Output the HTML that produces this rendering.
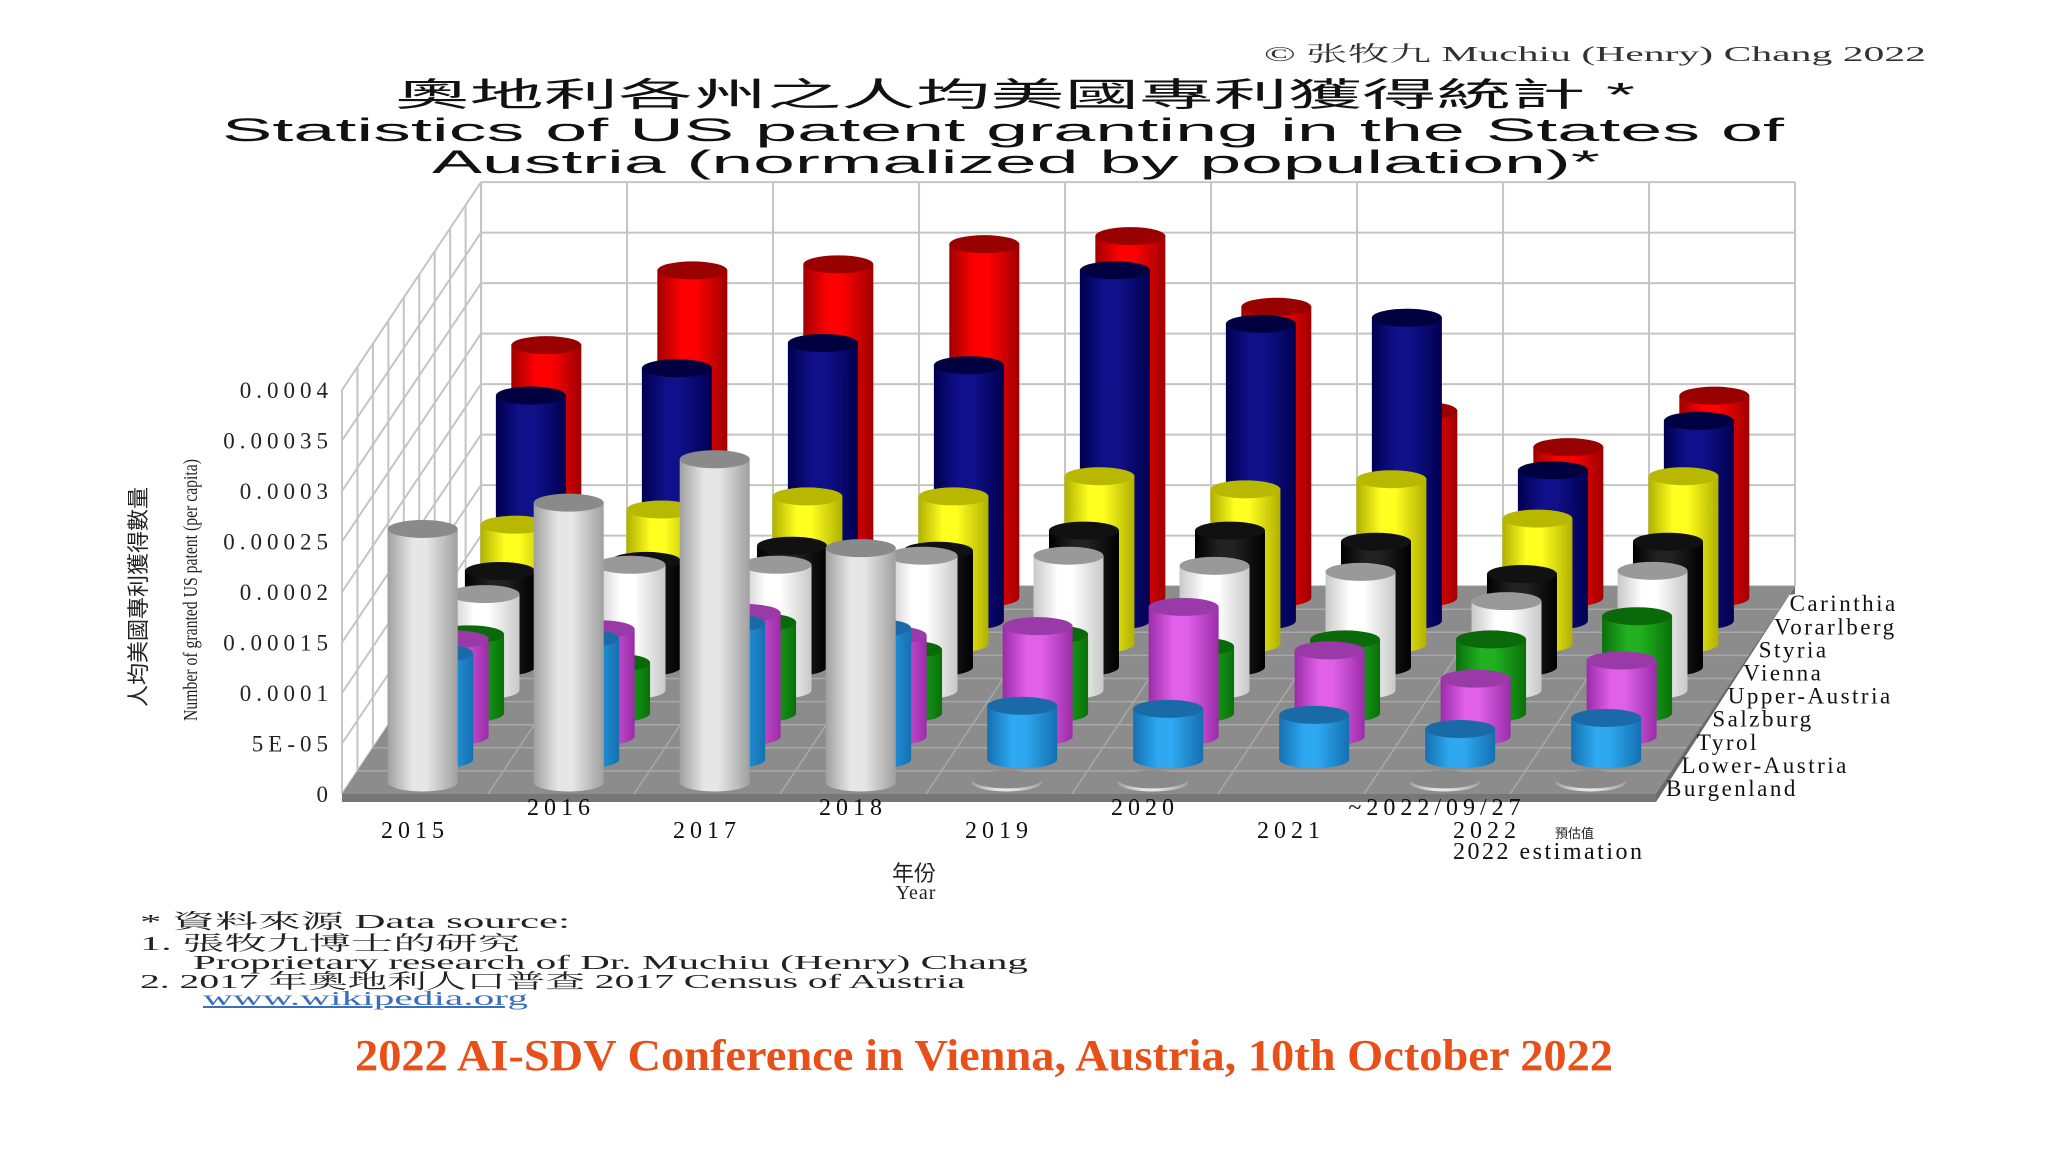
<!DOCTYPE html>
<html><head><meta charset="utf-8"><style>
html,body{margin:0;padding:0;background:#fff;}
svg{display:block;}
.serif{font-family:"Liberation Serif","Noto Serif CJK SC",serif;}
.sans{font-family:"Liberation Sans","Noto Sans CJK TC",sans-serif;}
</style></head><body>
<svg id="chart" width="2048" height="1152" viewBox="0 0 2048 1152" xmlns="http://www.w3.org/2000/svg">
<defs></defs>
<text x="1264" y="61" class="serif" font-size="21" fill="#333" textLength="662" lengthAdjust="spacingAndGlyphs">© 张牧九 Muchiu (Henry) Chang 2022</text>
<text x="395" y="106" class="sans" font-size="33" fill="#111" textLength="1240" lengthAdjust="spacingAndGlyphs">奧地利各州之人均美國專利獲得統計 *</text>
<text x="222" y="141" class="sans" font-size="32" fill="#111" textLength="1562" lengthAdjust="spacingAndGlyphs">Statistics of US patent granting in the States of</text>
<text x="432" y="173" class="sans" font-size="32" fill="#111" textLength="1168" lengthAdjust="spacingAndGlyphs">Austria (normalized by population)*</text>
<g id="plot"></g>
<text transform="translate(146,597) rotate(-90)" class="sans" font-size="22" text-anchor="middle" fill="#222">人均美國專利獲得數量</text>
<text transform="translate(197,590) rotate(-90)" class="serif" font-size="20" text-anchor="middle" fill="#222" textLength="262" lengthAdjust="spacingAndGlyphs">Number of granted US patent (per capita)</text>
<text x="914" y="881" class="sans" font-size="22" text-anchor="middle" fill="#222">年份</text>
<text x="916" y="899" class="serif" font-size="20" text-anchor="middle" fill="#222" letter-spacing="1">Year</text>
<g class="serif" font-size="20" fill="#222">
<text x="140" y="928" textLength="430" lengthAdjust="spacingAndGlyphs">* 資料來源  Data source:</text>
<text x="140" y="950" textLength="380" lengthAdjust="spacingAndGlyphs">1.  張牧九博士的研究</text>
<text x="193" y="969" textLength="835" lengthAdjust="spacingAndGlyphs">Proprietary research of Dr. Muchiu (Henry) Chang</text>
<text x="140" y="988" textLength="825" lengthAdjust="spacingAndGlyphs">2.  2017 年奧地利人口普查  2017 Census of Austria</text>
<text x="203" y="1005" fill="#3a6fc0" text-decoration="underline" textLength="325" lengthAdjust="spacingAndGlyphs">www.wikipedia.org</text>
</g>
<text x="984" y="1070" class="serif" font-size="44" font-weight="bold" fill="#e8501a" text-anchor="middle" textLength="1258" lengthAdjust="spacingAndGlyphs">2022 AI-SDV Conference in Vienna, Austria, 10th October 2022</text>
</svg>
<script>
const years = ["2015","2016","2017","2018","2019","2020","2021","~2022/09/27","2022"];
const states = ["Burgenland","Lower-Austria","Tyrol","Salzburg","Upper-Austria","Vienna","Styria","Vorarlberg","Carinthia"];
const yTicks = ["0","5E-05","0.0001","0.00015","0.0002","0.00025","0.0003","0.00035","0.0004"];
const burgenland = [0.000251,0.000277,0.00032,0.000232,0.000003,0.000003,0,0.000003,0.000003];
const lowerAustria = [0.000105,0.00012,0.000135,0.00013,0.000053,0.00005,0.000044,0.00003,0.000041];
const tyrol = [0.000096,0.000106,0.000122,0.0001,0.000109,0.000128,0.000085,0.000057,0.000075];
const salzburg = [0.000078,0.00005,0.00009,0.000063,0.000078,0.000066,0.000073,0.000073,0.000096];
const upperAustria = [0.000095,0.000124,0.000124,0.000133,0.000133,0.000123,0.000117,0.000088,0.000118];
const vienna = [0.000095,0.000105,0.00012,0.000115,0.000135,0.000135,0.000124,0.000092,0.000124];
const styria = [0.000118,0.000133,0.000146,0.000146,0.000166,0.000153,0.000163,0.000124,0.000166];
const vorarlberg = [0.000223,0.00025,0.000275,0.000253,0.000347,0.000294,0.0003,0.000149,0.000198];
const carinthia = [0.00025,0.000324,0.00033,0.00035,0.000358,0.000288,0.000185,0.000149,0.0002];
const seriesValues = [burgenland,lowerAustria,tyrol,salzburg,upperAustria,vienna,styria,vorarlberg,carinthia];
const colors = [["#e6e6e6","#a0a0a0","#8a8a8a"],["#2ea8f0","#1470b0","#1a6aa8"],["#e060e8","#9a2ca8","#9a3aa8"],["#20b020","#0a700a","#0a6a0a"],["#ffffff","#c8c8c8","#999"],["#222","#000","#111"],["#ffff20","#b0b000","#b8b800"],["#10108a","#000050","#000040"],["#f00","#a00000","#900"]];

const NS="http://www.w3.org/2000/svg";
const plot=document.getElementById('plot');
const defs=document.querySelector('defs');
const X0=342, Y0=794, COLW=146, DX=15.45, DY=23.1, YMAX=0.0004, HMAX=404;
const NC=years.length, NR=states.length;
function yScale(v){return v/YMAX*HMAX;}
function px(col,row){return X0+col*COLW+row*DX;}
function py(row,v){return Y0-row*DY-yScale(v);}
function mk(tag,attrs,parent){const e=document.createElementNS(NS,tag);for(const k in attrs)e.setAttribute(k,attrs[k]);(parent||plot).appendChild(e);return e;}

colors.forEach((c,i)=>{
  const g=mk('linearGradient',{id:'g'+i,x1:0,x2:1,y1:0,y2:0},defs);
  mk('stop',{offset:'0','stop-color':c[1]},g);
  mk('stop',{offset:'0.35','stop-color':c[0]},g);
  mk('stop',{offset:'0.55','stop-color':c[0]},g);
  mk('stop',{offset:'1','stop-color':c[1]},g);
});

const bx=px(0,NR);
const bw=mk('g',{});


for(let k=0;k<yTicks.length;k++){
  const y=py(NR,YMAX*k/(yTicks.length-1));
  mk('line',{x1:bx,y1:y,x2:px(NC,NR),y2:y,stroke:'#c4c4c4','stroke-width':2},bw);
  mk('line',{x1:px(0,0),y1:py(0,YMAX*k/(yTicks.length-1)),x2:bx,y2:y,stroke:'#c4c4c4','stroke-width':2},bw);
}
for(let c=0;c<=NC;c++){
  mk('line',{x1:px(c,NR),y1:py(NR,0),x2:px(c,NR),y2:py(NR,YMAX),stroke:'#c4c4c4','stroke-width':2},bw);
}
for(let r=0;r<=NR;r++){
  mk('line',{x1:px(0,r),y1:py(r,0),x2:px(0,r),y2:py(r,YMAX),stroke:'#c4c4c4','stroke-width':2},bw);
}
const fl=mk('g',{});


mk('polygon',{points:`${px(0,0)},${py(0,0)+8} ${px(NC,0)},${py(0,0)+8} ${px(NC,NR)},${py(NR,0)} ${px(NC,NR)},${py(NR,0)+8}`,fill:'#6a6a6a'},fl);
mk('polygon',{points:`${px(0,0)},${py(0,0)} ${px(NC,0)},${py(0,0)} ${px(NC,NR)},${py(NR,0)} ${px(0,NR)},${py(NR,0)}`,fill:'#8c8c8c'},fl);
mk('rect',{x:px(0,0),y:py(0,0),width:NC*COLW,height:8,fill:'#777'},fl);
for(let r=1;r<NR;r++) mk('line',{x1:px(0,r),y1:py(r,0),x2:px(NC,r),y2:py(r,0),stroke:'#a8a8a8','stroke-width':1.5},fl);
for(let c=1;c<NC;c++) mk('line',{x1:px(c,0),y1:py(0,0),x2:px(c,NR),y2:py(NR,0),stroke:'#a8a8a8','stroke-width':1.5},fl);

yTicks.forEach((t,k)=>{
  const e=mk('text',{x:333,y:py(0,YMAX*k/(yTicks.length-1))+8,'text-anchor':'end','font-size':23,'letter-spacing':5,fill:'#222',class:'serif'});
  
  
  e.textContent=t;
});

const R=35, RY=9;
for(let r=NR-1;r>=0;r--){
  const grp=mk('g',{});
  
  
  for(let c=0;c<NC;c++){
    const v=seriesValues[r][c];
    if(v<=0) continue;
    const cx=px(c+0.5,r+0.5), yb=py(r+0.5,0), yt=py(r+0.5,v);
    const b=mk('g',{},grp);
    
    
    mk('path',{d:`M${cx-R},${yt} L${cx-R},${yb} A${R},${RY} 0 0 0 ${cx+R},${yb} L${cx+R},${yt} Z`,fill:`url(#g${r})`},b);
    mk('ellipse',{cx:cx,cy:yt,rx:R,ry:RY,fill:colors[r][2]},b);
  }
}
states.forEach((s,i)=>{
  const e=mk('text',{x:px(NC,i)+10,y:py(i,0)+2,'font-size':23,'letter-spacing':2.5,fill:'#111',class:'serif'});
  
  
  e.textContent=s;
});
years.forEach((yv,c)=>{
  const x=px(c+0.5,0);
  const y=(c%2===0)?838:815;
  const last=(c===NC-1);
  const e=mk('text',{x:last?1453:x,y:y,'text-anchor':last?'start':'middle','font-size':24,'letter-spacing':5,fill:'#111',class:'serif'});
  
  
  e.textContent=yv;
});
const est=mk('text',{x:1555,y:838,'font-size':13,fill:'#222',class:'sans'});


est.textContent='預估值';
const est2=mk('text',{x:1453,y:859,'font-size':24,'letter-spacing':2.5,fill:'#111',class:'serif'});


est2.textContent='2022 estimation';
</script>
</body></html>
